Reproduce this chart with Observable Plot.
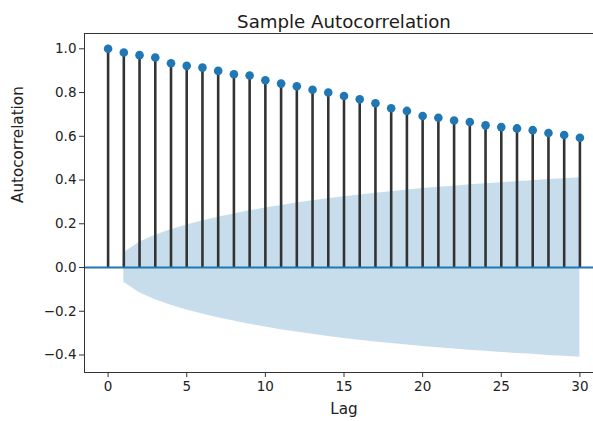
<!DOCTYPE html>
<html>
<head>
<meta charset="utf-8">
<script src="https://cdn.jsdelivr.net/npm/d3@7"></script>
<script src="https://cdn.jsdelivr.net/npm/@observablehq/plot@0.6"></script>
<style>
  html, body { margin: 0; padding: 0; background: #fff; overflow: hidden; }
  #chart { width: 593px; height: 421px; overflow: hidden; }
  #chart svg { display: block; max-width: none !important; width: 603px; height: 421px; }
</style>
</head>
<body>
<div id="chart"></div>
<script>
const title = "Sample Autocorrelation";
const xLabel = "Lag";
const yLabel = "Autocorrelation";

const lags = d3.range(0, 31);
const acfValues = [
  1.000, 0.983, 0.971, 0.960, 0.934, 0.922, 0.914, 0.899, 0.884, 0.878,
  0.856, 0.841, 0.829, 0.813, 0.800, 0.784, 0.769, 0.751, 0.728, 0.716,
  0.693, 0.685, 0.672, 0.665, 0.650, 0.642, 0.636, 0.628, 0.615, 0.606,
  0.593
];
// confidence band half-width, lags 1..30
const bandLags = d3.range(1, 31);
const bandValues = [
  0.067, 0.115, 0.147, 0.173, 0.194, 0.213, 0.230, 0.245, 0.259, 0.272,
  0.284, 0.295, 0.305, 0.315, 0.324, 0.332, 0.340, 0.347, 0.354, 0.361,
  0.367, 0.372, 0.378, 0.383, 0.388, 0.393, 0.397, 0.402, 0.406, 0.410
];
const xTicks = [0, 5, 10, 15, 20, 25, 30];
const yTicks = [-0.4, -0.2, 0.0, 0.2, 0.4, 0.6, 0.8, 1.0];

const acf = lags.map((l, i) => ({lag: l, value: acfValues[i]}));
const band = bandLags.map((l, i) => ({lag: l, w: bandValues[i]}));

const fontSize = 13.5;
const font = "DejaVu Sans";

const chart = Plot.plot({
  width: 603,
  height: 421,
  marginLeft: 84,
  marginRight: 0,
  marginTop: 33,
  marginBottom: 49,
  style: {fontFamily: font, fontSize: fontSize + "px", color: "#222", background: "#fff"},
  x: {domain: [-1.5, 31.5]},
  y: {domain: [-0.48, 1.07]},
  marks: [
    Plot.areaY(band, {x: "lag", y1: d => -d.w, y2: d => d.w, fill: "#1f77b4", fillOpacity: 0.25, curve: "linear"}),
    Plot.ruleX(acf, {x: "lag", y1: 0, y2: "value", stroke: "#333", strokeWidth: 2.6}),
    Plot.ruleY([0], {stroke: "#1f77b4", strokeWidth: 2}),
    Plot.dot(acf, {x: "lag", y: "value", r: 4.3, fill: "#1f77b4", stroke: "none"}),
    Plot.frame({stroke: "#333", strokeWidth: 1}),
    Plot.axisX({ticks: xTicks, tickSize: 5, tickPadding: 4, tickFormat: d3.format("d"), fontSize: fontSize, stroke: "#333", label: null}),
    Plot.axisY({ticks: yTicks, tickSize: 5, tickPadding: 3, tickFormat: d3.format(".1f"), fontSize: fontSize, stroke: "#333", label: null}),
    Plot.text([xLabel], {frameAnchor: "bottom", dy: 41, fontSize: 15.2, fill: "#222"}),
    Plot.text([yLabel], {frameAnchor: "left", dx: -66, rotate: -90, fontSize: 15.2, fill: "#222"}),
    Plot.text([title], {frameAnchor: "top", dy: -18, fontSize: 18.2, fill: "#1a1a1a"})
  ]
});
document.getElementById("chart").appendChild(chart);
</script>
</body>
</html>
